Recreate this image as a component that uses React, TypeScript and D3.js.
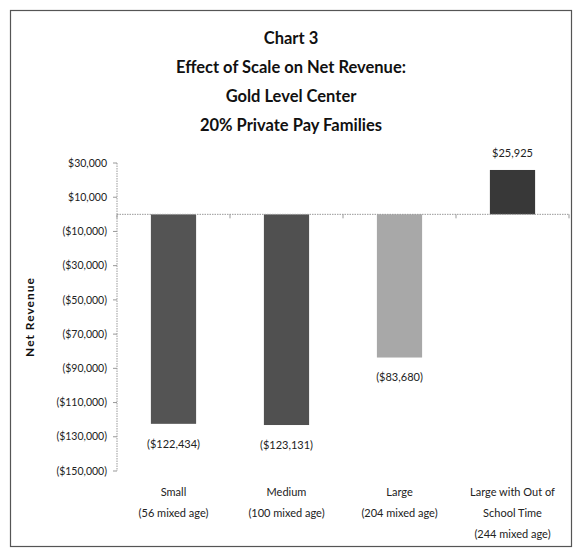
import React from "react";
import * as d3 from "d3";

const titleLines = ["Chart 3", "Effect of Scale on Net Revenue:", "Gold Level Center", "20% Private Pay Families"];
const categories = ["Small", "Medium", "Large", "Large OST"];
const categoryLabelLines = [
  ["Small", "(56 mixed age)"],
  ["Medium", "(100 mixed age)"],
  ["Large", "(204 mixed age)"],
  ["Large with Out of", "School Time", "(244 mixed age)"],
];
const values = [-122434, -123131, -83680, 25925];
const barColors = ["#545454", "#505050", "#a8a8a8", "#383838"];
const yTicks = [30000, 10000, -10000, -30000, -50000, -70000, -90000, -110000, -130000, -150000];
const yAxisTitle = "Net Revenue";

const W = 579;
const H = 554;
const plotLeft = 117;
const plotRight = 569;
const plotTop = 163;
const plotBottom = 471;
const FONT = "Lato, 'Open Sans', sans-serif";

const fmtMoney = (v: number) => {
  const s = "$" + d3.format(",")(Math.abs(v));
  return v < 0 ? `(${s})` : s;
};

export default function App() {
  const y = d3.scaleLinear().domain([-150000, 30000]).range([plotBottom, plotTop]);
  const x = d3
    .scaleBand<string>()
    .domain(categories)
    .range([plotLeft, plotRight])
    .paddingInner(0.6)
    .paddingOuter(0.3);
  const y0 = y(0);
  const boundaries = d3.range(categories.length + 1).map((i) => plotLeft + i * ((plotRight - plotLeft) / categories.length));

  return (
    <svg
      width={W}
      height={H}
      style={{ position: "absolute", left: 0, top: 0, background: "#fff" }}
      fontFamily={FONT}
    >
      <rect x={10.5} y={10.5} width={561} height={536} fill="#fff" stroke="#555" strokeWidth={1.2} />
      {titleLines.map((t, i) => (
        <text
          key={t}
          x={291}
          y={44 + i * 29}
          textAnchor="middle"
          fontSize={16.5}
          fontWeight="bold"
          fill="#111"
        >
          {t}
        </text>
      ))}
      {/* y axis */}
      <line x1={plotLeft} x2={plotLeft} y1={plotTop} y2={plotBottom} stroke="#999" strokeDasharray="1.5 1" />
      {yTicks.map((t) => (
        <g key={t}>
          <line x1={plotLeft - 4} x2={plotLeft} y1={y(t)} y2={y(t)} stroke="#999" />
          <text x={plotLeft - 10} y={y(t)} dy="0.35em" textAnchor="end" fontSize={10.5} fill="#222">
            {fmtMoney(t)}
          </text>
        </g>
      ))}
      <text
        transform={`translate(30,${(plotTop + plotBottom) / 2}) rotate(-90)`}
        textAnchor="middle"
        fontSize={12}
        fontWeight="bold"
        letterSpacing={1}
        fill="#111"
        dy="0.35em"
      >
        {yAxisTitle}
      </text>
      {/* bars */}
      {categories.map((c, i) => {
        const v = values[i];
        const top = Math.min(y(v), y0);
        const h = Math.abs(y(v) - y0);
        const cx = (x(c) ?? 0) + x.bandwidth() / 2;
        return (
          <g key={c}>
            <rect x={x(c)} y={top} width={x.bandwidth()} height={h} fill={barColors[i]} />
            <text
              x={cx}
              y={v < 0 ? y(v) + 20 : y(v) - 17}
              dy="0.35em"
              textAnchor="middle"
              fontSize={11}
              fill="#222"
            >
              {fmtMoney(v)}
            </text>
            {categoryLabelLines[i].map((ln, j) => (
              <text
                key={j}
                x={cx}
                y={492 + j * 21}
                dy="0.35em"
                textAnchor="middle"
                fontSize={11}
                fill="#222"
              >
                {ln}
              </text>
            ))}
          </g>
        );
      })}
      {/* zero line */}
      <line x1={plotLeft} x2={plotRight} y1={y0} y2={y0} stroke="#999" strokeDasharray="1.5 1" />
      {boundaries.map((bx, i) => (
        <line key={i} x1={bx} x2={bx} y1={y0} y2={y0 + 4} stroke="#999" />
      ))}
    </svg>
  );
}
